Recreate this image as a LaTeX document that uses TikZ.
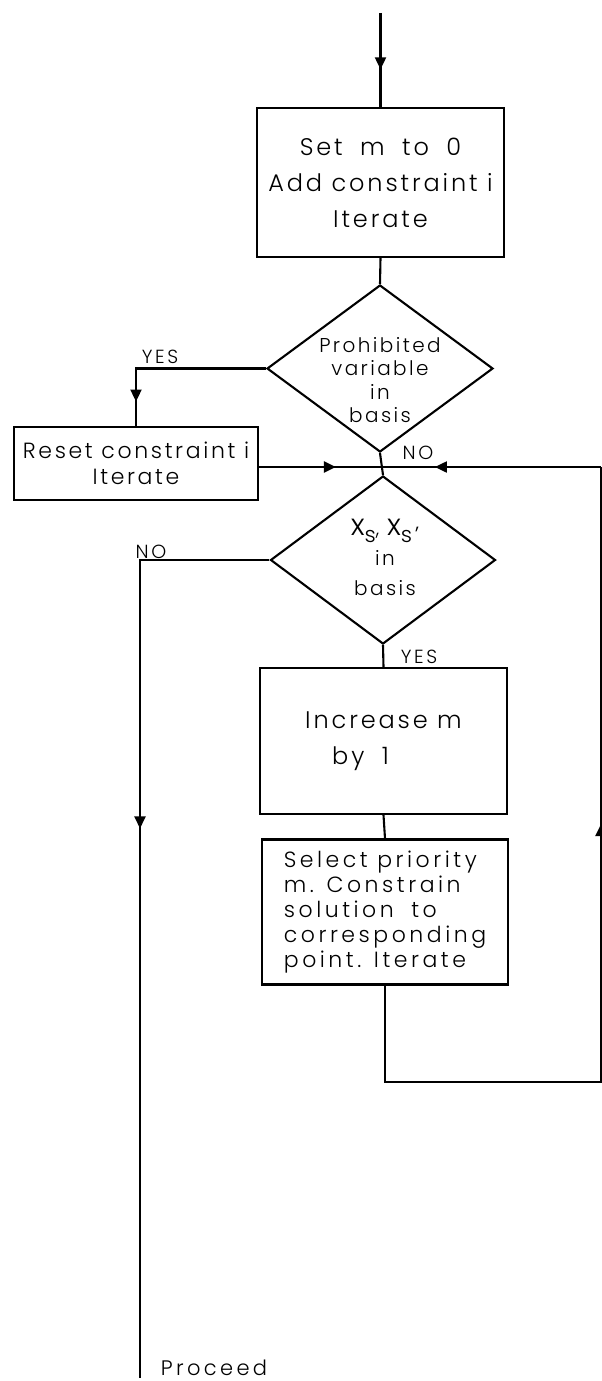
\documentclass[tikz,border=0pt]{standalone}
\usepackage{fontspec}
\setmainfont{Poppins}[UprightFont=* Light, LetterSpace=12]
\usetikzlibrary{shapes.geometric,arrows.meta,decorations.markings}
\tikzset{
  conn/.style={line width=2.1pt},
  midarrow/.style={postaction={decorate}, decoration={markings, mark=at position #1 with {\arrow{Triangle[length=12pt,width=11pt]}}}},
  box/.style={draw, line width=2.2pt, inner sep=0pt, font=\fontsize{24}{36}\selectfont, align=center},
  dia/.style={draw, diamond, line width=2.1pt, inner sep=0pt},
  dtext/.style={font=\fontsize{20}{23.5}\selectfont, align=center, inner sep=0pt},
  lbl/.style={font=\fontsize{19}{20}\selectfont\addfontfeatures{LetterSpace=14}, inner sep=0pt},
}
\newcommand{\bigx}{{\fontsize{30}{30}\selectfont x}}
\newcommand{\subs}[1]{\raisebox{-7pt}{\fontsize{22}{22}\selectfont #1}}
\begin{document}
\begin{tikzpicture}[x=1pt, y=-1pt]
\fill[white] (0,0) rectangle (602,1381);
\useasboundingbox (0,0) rectangle (602,1381);

% nodes
\node[box, minimum width=247pt, minimum height=149pt] (b1) at (380.5,182.5) {Set\hspace{8pt} m\hspace{8pt} to\hspace{8pt} 0\\Add constraint i\\Iterate};
\node[dia, minimum width=226pt, minimum height=167pt] (d1) at (380,368.5) {};
\node[dtext] (d1t) at (380,380) {Prohibited\\variable\\in\\basis};
\node[box, minimum width=244pt, minimum height=73pt, font=\fontsize{22}{26}\selectfont] (reset) at (136,463.5) {Reset constraint i\\Iterate};
\node[dia, minimum width=225pt, minimum height=168pt] (d2) at (383,560) {};
\node[dtext, font=\fontsize{20}{30}\selectfont] (d2t) at (385,557) {\bigx\subs{s}, \bigx\subs{s'}\\in\\basis};
\node[box, minimum width=247pt, minimum height=146pt, align=left] (inc) at (383.5,741) {Increase m\\\hspace*{27pt}by\hspace{8pt} 1};
\node[box, minimum width=246pt, minimum height=145pt, align=left, font=\fontsize{22}{25}\selectfont\addfontfeatures{LetterSpace=16}] (sel) at (385,912) {Select priority\\m. Constrain\\solution\hspace{8pt} to\\corresponding\\point. Iterate};

% labels
\node[lbl] (yes1) at (160,357) {YES};
\node[lbl] (no1) at (418,453) {NO};
\node[lbl] (no2) at (151,552) {NO};
\node[lbl] (yes2) at (419,657) {YES};
\node[font=\fontsize{21}{24}\selectfont\addfontfeatures{LetterSpace=16}, inner sep=0pt] (proc) at (214,1368) {Proceed};

% coordinates
\coordinate (start) at (380.5,13);
\coordinate (J) at (381,467);
\coordinate (pend) at (140,1378);
\coordinate (c1) at (385,1082);
\coordinate (c2) at (601,1082);
\coordinate (ret) at (601,467);

% connectors
\draw[conn, midarrow=0.6] (start) -- (b1.north);
\draw[conn] (b1.south) -- (d1.north);
\draw[conn, midarrow=0.87] (d1.west) -| (reset.north);
\draw[conn] (d1.south) -- (d2.north);
\draw[conn, midarrow=0.63] (reset.east |- J) -- (J);
\draw[conn, midarrow=0.755] (ret) -- (J);
\draw[conn, midarrow=0.42] (d2.west) -| (pend);
\draw[conn] (d2.south) -- (inc.north);
\draw[conn] (inc.south) -- (sel.north);
\draw[conn, midarrow=0.615] (sel.south) -- (c1) -- (c2) -- (ret);
\end{tikzpicture}
\end{document}
